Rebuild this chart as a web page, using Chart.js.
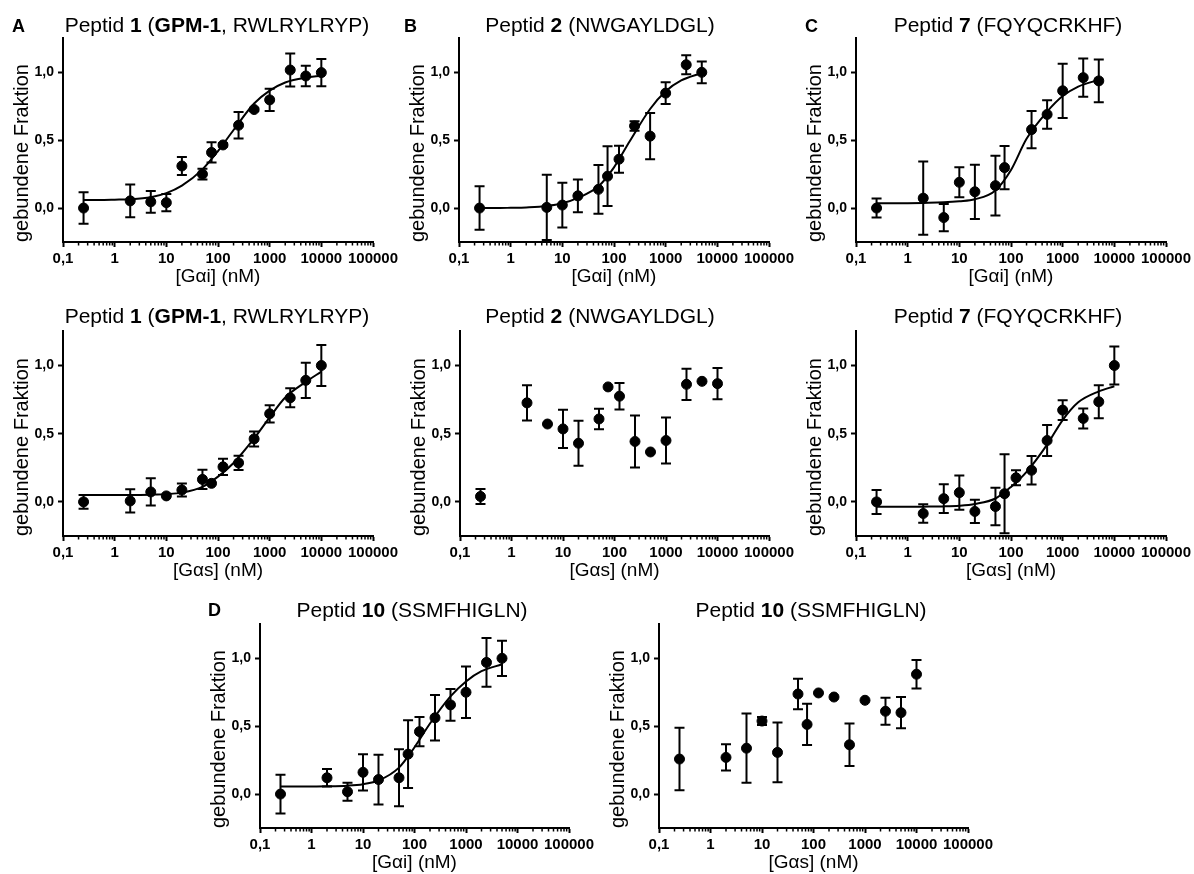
<!DOCTYPE html>
<html><head><meta charset="utf-8">
<script src="https://cdn.jsdelivr.net/npm/chart.js@4/dist/chart.umd.min.js"></script>
<style>
body{margin:0;background:#fff;width:1194px;height:874px;position:relative;overflow:hidden;font-family:"Liberation Sans",Arial,sans-serif;color:#000;}
canvas{position:absolute;}
.t{position:absolute;transform:translateX(-50%);font-size:21px;white-space:nowrap;line-height:21px;}
.l{position:absolute;font-size:18px;font-weight:bold;line-height:18px;}
</style></head><body>
<script>
// ---- tick definitions ----
const xTickValues = [0.1, 1, 10, 100, 1000, 10000, 100000];
const xTickLabels = ['0,1', '1', '10', '100', '1000', '10000', '100000'];
const yTickValues = [0, 0.5, 1];
const yTickLabels = ['0,0', '0,5', '1,0'];
const minorTickValues = [];
[0.1, 1, 10, 100, 1000, 10000].forEach(d => { for (let k = 2; k <= 9; k++) minorTickValues.push(d * k); });

// ---- A1: Peptid 1, Gαi ----
const xA1 = [0.25, 2, 5, 10, 20, 50, 75, 125, 250, 500, 1000, 2500, 5000, 10000];
const yA1 = [0.0, 0.053, 0.046, 0.04, 0.31, 0.25, 0.41, 0.465, 0.61, 0.726, 0.797, 1.017, 0.973, 0.998];
const eA1 = [0.116, 0.12, 0.08, 0.063, 0.067, 0.04, 0.075, 0.012, 0.097, 0.01, 0.082, 0.122, 0.075, 0.1];
const cxA1 = [0.25, 0.5, 1, 2, 5, 10, 20, 50, 100, 200, 500, 1000, 2000, 5000, 10000];
const cyA1 = [0.06, 0.06, 0.062, 0.065, 0.08, 0.11, 0.165, 0.285, 0.42, 0.575, 0.77, 0.865, 0.925, 0.96, 0.975];

// ---- B1: Peptid 2, Gαi ----
const xB1 = [0.25, 5, 10, 20, 50, 75, 125, 250, 500, 1000, 2500, 5000];
const yB1 = [0.0, 0.005, 0.022, 0.09, 0.138, 0.235, 0.36, 0.605, 0.53, 0.847, 1.056, 1.0];
const eB1 = [0.16, 0.24, 0.165, 0.12, 0.18, 0.22, 0.1, 0.035, 0.17, 0.08, 0.07, 0.08];
const cxB1 = [0.25, 0.5, 1, 2, 5, 10, 20, 50, 100, 200, 500, 1000, 2000, 5000];
const cyB1 = [0.0, 0.0, 0.002, 0.005, 0.015, 0.035, 0.075, 0.16, 0.3, 0.49, 0.73, 0.86, 0.94, 0.995];

// ---- C1: Peptid 7, Gαi ----
const xC1 = [0.25, 2, 5, 10, 20, 50, 75, 250, 500, 1000, 2500, 5000];
const yC1 = [0.0, 0.073, -0.07, 0.19, 0.12, 0.165, 0.298, 0.578, 0.69, 0.864, 0.961, 0.937];
const eC1 = [0.07, 0.27, 0.1, 0.11, 0.2, 0.22, 0.16, 0.137, 0.105, 0.2, 0.14, 0.157];
const cxC1 = [0.25, 0.5, 1, 2, 5, 10, 20, 50, 100, 200, 500, 1000, 2000, 5000];
const cyC1 = [0.035, 0.035, 0.036, 0.038, 0.042, 0.05, 0.065, 0.13, 0.28, 0.51, 0.71, 0.825, 0.895, 0.945];

// ---- A2: Peptid 1, Gαs ----
const xA2 = [0.25, 2, 5, 10, 20, 50, 75, 125, 250, 500, 1000, 2500, 5000, 10000];
const yA2 = [0.0, 0.007, 0.073, 0.044, 0.087, 0.165, 0.136, 0.257, 0.286, 0.462, 0.646, 0.763, 0.891, 1.0];
const eA2 = [0.05, 0.085, 0.1, 0, 0.047, 0.07, 0, 0.06, 0.053, 0.055, 0.063, 0.07, 0.13, 0.15];
const cxA2 = [0.25, 0.5, 1, 2, 5, 10, 20, 50, 100, 200, 500, 1000, 2000, 5000, 10000];
const cyA2 = [0.05, 0.05, 0.05, 0.051, 0.053, 0.057, 0.068, 0.11, 0.185, 0.285, 0.465, 0.62, 0.765, 0.88, 0.955];

// ---- B2: Peptid 2, Gαs ----
const xB2 = [0.25, 2, 5, 10, 20, 50, 75, 125, 250, 500, 1000, 2500, 5000, 10000];
const yB2 = [0.04, 0.726, 0.571, 0.535, 0.43, 0.608, 0.843, 0.775, 0.443, 0.366, 0.45, 0.862, 0.884, 0.867];
const eB2 = [0.055, 0.13, 0, 0.14, 0.165, 0.075, 0, 0.097, 0.19, 0, 0.168, 0.115, 0, 0.114];

// ---- C2: Peptid 7, Gαs ----
const xC2 = [0.25, 2, 5, 10, 20, 50, 75, 125, 250, 500, 1000, 2500, 5000, 10000];
const yC2 = [0.0, -0.085, 0.024, 0.068, -0.07, -0.034, 0.06, 0.177, 0.232, 0.45, 0.673, 0.612, 0.734, 1.0];
const eC2 = [0.088, 0.068, 0.105, 0.126, 0.085, 0.137, 0.29, 0.055, 0.105, 0.113, 0.073, 0.073, 0.121, 0.14];
const cxC2 = [0.25, 0.5, 1, 2, 5, 10, 20, 50, 100, 200, 500, 1000, 2000, 5000, 10000];
const cyC2 = [-0.036, -0.036, -0.036, -0.035, -0.033, -0.028, -0.015, 0.025, 0.11, 0.22, 0.42, 0.6, 0.73, 0.81, 0.848];

// ---- D1: Peptid 10, Gαi ----
const xD1 = [0.25, 2, 5, 10, 20, 50, 75, 125, 250, 500, 1000, 2500, 5000];
const yD1 = [0.0, 0.12, 0.017, 0.16, 0.107, 0.12, 0.294, 0.46, 0.562, 0.657, 0.75, 0.97, 1.0];
const eD1 = [0.143, 0.064, 0.066, 0.134, 0.183, 0.21, 0.25, 0.108, 0.167, 0.117, 0.19, 0.18, 0.13];
const cxD1 = [0.25, 0.5, 1, 2, 5, 10, 20, 50, 100, 200, 500, 1000, 2000, 5000];
const cyD1 = [0.055, 0.055, 0.056, 0.057, 0.062, 0.073, 0.1, 0.195, 0.345, 0.52, 0.72, 0.83, 0.905, 0.956];

// ---- D2: Peptid 10, Gαs ----
const xD2 = [0.25, 2, 5, 10, 20, 50, 75, 125, 250, 500, 1000, 2500, 5000, 10000];
const yD2 = [0.258, 0.27, 0.338, 0.538, 0.307, 0.737, 0.513, 0.745, 0.715, 0.363, 0.691, 0.61, 0.6, 0.883];
const eD2 = [0.23, 0.097, 0.255, 0.03, 0.22, 0.113, 0.152, 0, 0, 0.157, 0, 0.1, 0.116, 0.105];

const TXT_I = '[G\u03B1i] (nM)';
const TXT_S = '[G\u03B1s] (nM)';

function addText(cls, html, x, y) {
  const d = document.createElement('div');
  d.className = cls; d.innerHTML = html;
  d.style.left = x + 'px'; d.style.top = y + 'px';
  document.body.appendChild(d);
}

function panel(p) {
  const W = p.right - p.left + 63 + 34;
  const H = p.bottom - p.top + 10 + 52;
  const cv = document.createElement('canvas');
  cv.width = W; cv.height = H;
  cv.style.left = (p.left - 63) + 'px'; cv.style.top = (p.top - 10) + 'px';
  cv.style.width = W + 'px'; cv.style.height = H + 'px';
  document.body.appendChild(cv);

  const datasets = [{
    type: 'scatter',
    data: p.xs.map((x, i) => ({x: x, y: p.ys[i]})),
    backgroundColor: '#000', borderColor: '#000',
    pointRadius: 5, pointHoverRadius: 5, order: 1
  }];
  if (p.cx) {
    datasets.push({
      type: 'line',
      data: p.cx.map((x, i) => ({x: x, y: p.cy[i]})),
      borderColor: '#000', borderWidth: 2, pointRadius: 0,
      cubicInterpolationMode: 'monotone', fill: false, order: 2
    });
  }

  const errPlugin = {
    id: 'err' + p.id,
    afterDatasetsDraw(chart) {
      const ctx = chart.ctx, xs = chart.scales.x, ys = chart.scales.y;
      ctx.save();
      ctx.strokeStyle = '#000'; ctx.lineWidth = 2;
      p.xs.forEach((xv, i) => {
        const e = p.es[i]; if (!e) return;
        const px = xs.getPixelForValue(xv);
        const y1 = ys.getPixelForValue(p.ys[i] + e), y2 = ys.getPixelForValue(p.ys[i] - e);
        ctx.beginPath();
        ctx.moveTo(px, y1); ctx.lineTo(px, y2);
        ctx.moveTo(px - 5, y1); ctx.lineTo(px + 5, y1);
        ctx.moveTo(px - 5, y2); ctx.lineTo(px + 5, y2);
        ctx.stroke();
      });
      ctx.lineWidth = 1.5;
      minorTickValues.forEach(v => {
        const px = xs.getPixelForValue(v);
        ctx.beginPath(); ctx.moveTo(px, xs.top); ctx.lineTo(px, xs.top + 3.5); ctx.stroke();
      });
      ctx.restore();
    }
  };

  new Chart(cv, {
    data: {datasets: datasets},
    plugins: [errPlugin],
    options: {
      responsive: false, animation: false, devicePixelRatio: 1,
      layout: {padding: {left: 0, right: 34, top: 10, bottom: 0}},
      plugins: {legend: {display: false}, tooltip: {enabled: false}},
      scales: {
        x: {
          type: 'logarithmic', min: 0.1, max: 100000,
          afterBuildTicks: s => { s.ticks = xTickValues.map(v => ({value: v})); },
          afterFit: s => { s.height = 52; },
          border: {color: '#000', width: 2},
          grid: {drawOnChartArea: false, drawTicks: true, tickLength: 5, tickWidth: 2, tickColor: '#000'},
          ticks: {
            autoSkip: false, maxRotation: 0, padding: 3, color: '#000',
            font: {family: 'Liberation Sans', size: 15, weight: 'bold'},
            callback: (v) => { const i = xTickValues.indexOf(v); return i >= 0 ? xTickLabels[i] : ''; }
          },
          title: {display: true, text: p.xTitle, color: '#000', padding: {top: 0, bottom: 6},
                  font: {family: 'Liberation Sans', size: 19, weight: 'normal'}}
        },
        y: {
          type: 'linear', min: -0.25, max: 1.25,
          afterBuildTicks: s => { s.ticks = yTickValues.map(v => ({value: v})); },
          afterFit: s => { s.width = 63; },
          border: {color: '#000', width: 2},
          grid: {drawOnChartArea: false, drawTicks: true, tickLength: 5, tickWidth: 2, tickColor: '#000'},
          ticks: {
            padding: 4, color: '#000',
            font: {family: 'Liberation Sans', size: 14, weight: 'bold'},
            callback: (v) => { const i = yTickValues.indexOf(v); return i >= 0 ? yTickLabels[i] : ''; }
          },
          title: {display: true, text: 'gebundene Fraktion', color: '#000', align: 'start',
                  padding: {top: 10, bottom: 0},
                  font: {family: 'Liberation Sans', size: 20, weight: 'normal'}}
        }
      }
    }
  });
}

// row 1
panel({id: 'A1', left: 63, right: 373, top: 36, bottom: 242, xs: xA1, ys: yA1, es: eA1, cx: cxA1, cy: cyA1, xTitle: TXT_I});
panel({id: 'B1', left: 459, right: 769, top: 36, bottom: 242, xs: xB1, ys: yB1, es: eB1, cx: cxB1, cy: cyB1, xTitle: TXT_I});
panel({id: 'C1', left: 856, right: 1166, top: 36, bottom: 242, xs: xC1, ys: yC1, es: eC1, cx: cxC1, cy: cyC1, xTitle: TXT_I});
// row 2
panel({id: 'A2', left: 63, right: 373, top: 329, bottom: 536, xs: xA2, ys: yA2, es: eA2, cx: cxA2, cy: cyA2, xTitle: TXT_S});
panel({id: 'B2', left: 460, right: 769, top: 329, bottom: 536, xs: xB2, ys: yB2, es: eB2, xTitle: TXT_S});
panel({id: 'C2', left: 856, right: 1166, top: 329, bottom: 536, xs: xC2, ys: yC2, es: eC2, cx: cxC2, cy: cyC2, xTitle: TXT_S});
// row 3
panel({id: 'D1', left: 260, right: 569, top: 622, bottom: 828, xs: xD1, ys: yD1, es: eD1, cx: cxD1, cy: cyD1, xTitle: TXT_I});
panel({id: 'D2', left: 659, right: 968, top: 622, bottom: 828, xs: xD2, ys: yD2, es: eD2, xTitle: TXT_S});

// titles
addText('t', 'Peptid <b>1</b> (<b>GPM-1</b>, RWLRYLRYP)', 217, 14);
addText('t', 'Peptid <b>2</b> (NWGAYLDGL)', 600, 14);
addText('t', 'Peptid <b>7</b> (FQYQCRKHF)', 1008, 14);
addText('t', 'Peptid <b>1</b> (<b>GPM-1</b>, RWLRYLRYP)', 217, 305);
addText('t', 'Peptid <b>2</b> (NWGAYLDGL)', 600, 305);
addText('t', 'Peptid <b>7</b> (FQYQCRKHF)', 1008, 305);
addText('t', 'Peptid <b>10</b> (SSMFHIGLN)', 412, 599);
addText('t', 'Peptid <b>10</b> (SSMFHIGLN)', 811, 599);
// panel letters
addText('l', 'A', 12, 17);
addText('l', 'B', 404, 17);
addText('l', 'C', 805, 17);
addText('l', 'D', 208, 601);
</script>
</body></html>
